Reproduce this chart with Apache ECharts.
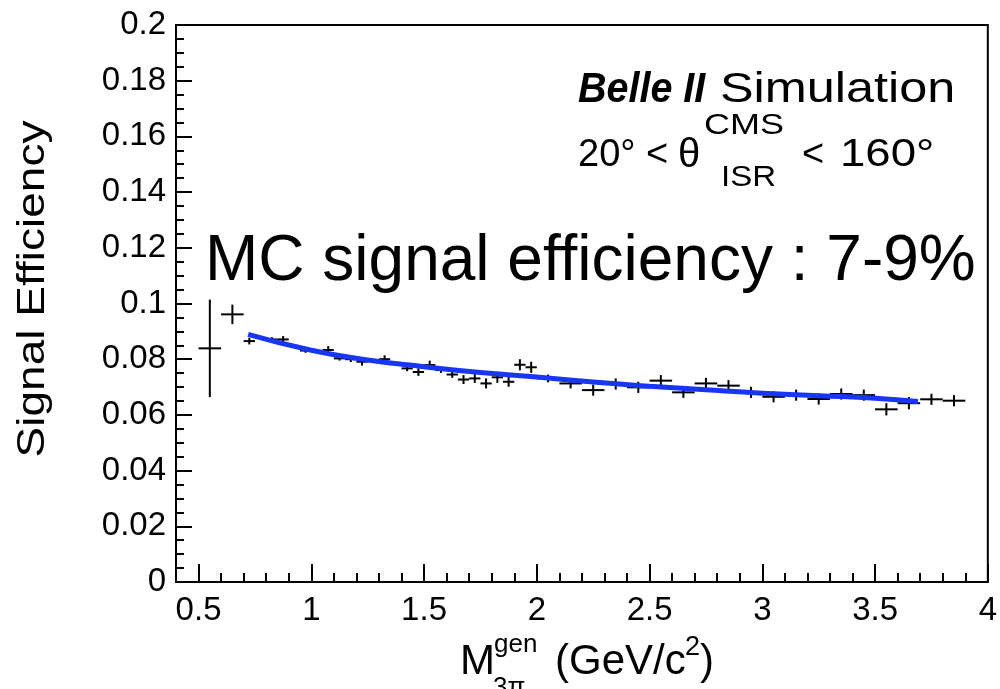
<!DOCTYPE html>
<html>
<head>
<meta charset="utf-8">
<script src="https://cdn.jsdelivr.net/npm/echarts@6/dist/echarts.min.js"></script>
<style>
html,body{margin:0;padding:0;background:#fff;}
#c{width:1000px;height:689px;}
</style>
</head>
<body>
<div id="c"></div>
<script>
// ---- data ----
const massCenters = [0.55,0.65,0.725,0.825,0.875,0.975,1.075,1.125,1.175,1.225,1.325,1.425,1.475,1.525,1.575,1.625,1.675,1.725,1.775,1.825,1.875,1.925,1.975,2.05,2.15,2.25,2.35,2.45,2.55,2.65,2.75,2.85,2.95,3.05,3.15,3.25,3.35,3.45,3.55,3.65,3.75,3.85];
const binHalfWidths = [0.05,0.05,0.025,0.025,0.025,0.025,0.025,0.025,0.025,0.025,0.025,0.025,0.025,0.025,0.025,0.025,0.025,0.025,0.025,0.025,0.025,0.025,0.025,0.05,0.05,0.05,0.05,0.05,0.05,0.05,0.05,0.05,0.05,0.05,0.05,0.05,0.05,0.05,0.05,0.05,0.05,0.05];
const efficiency = [0.0839,0.0961,0.0865,0.0871,0.0871,0.0831,0.0833,0.0803,0.0800,0.0791,0.0800,0.0767,0.0754,0.0779,0.0761,0.0745,0.0727,0.0731,0.0713,0.0735,0.0719,0.0780,0.0771,0.0731,0.0713,0.0689,0.0711,0.0699,0.0723,0.0681,0.0713,0.0705,0.0681,0.0665,0.0671,0.0657,0.0675,0.0671,0.0620,0.0642,0.0656,0.0651];
const effErrors = [0.0175,0.0035,0.0012,0.0008,0.0012,0.0008,0.0014,0.0008,0.0010,0.0014,0.0014,0.0010,0.0014,0.0016,0.0010,0.0012,0.0016,0.0016,0.0018,0.0020,0.0018,0.0020,0.0020,0.0014,0.0018,0.0020,0.0020,0.0020,0.0020,0.0020,0.0020,0.0020,0.0020,0.0020,0.0020,0.0020,0.0020,0.0020,0.0022,0.0022,0.0020,0.0020];
const fitX = [0.72,1.0,1.25,1.5,1.75,2.0,2.25,2.5,2.75,3.0,3.25,3.5,3.69];
const fitY = [0.0889,0.0832,0.0797,0.0773,0.0752,0.0736,0.0718,0.0703,0.0690,0.0678,0.0669,0.0660,0.0648];
const xTickLabels = [0.5,1,1.5,2,2.5,3,3.5,4];

const pointData = massCenters.map((x,i)=>[x, efficiency[i], binHalfWidths[i], effErrors[i]]);
const fitData = fitX.map((x,i)=>[x, fitY[i]]);

const FONT = '"Liberation Sans", Arial, sans-serif';
const chart = echarts.init(document.getElementById('c'), null, {renderer:'canvas'});
const fmt = v => String(+(+v).toFixed(2));

chart.setOption({
  animation:false,
  backgroundColor:'#fff',
  grid:{left:176,right:11,top:25,bottom:107,show:true,borderColor:'#000',borderWidth:2,backgroundColor:'transparent'},
  xAxis:[{
    type:'value',min:0.4,max:4.0,interval:0.1,position:'bottom',
    axisLine:{show:true,lineStyle:{color:'#000',width:2}},
    axisTick:{show:true,inside:true,length:9,lineStyle:{color:'#000',width:2}},
    axisLabel:{show:true,customValues:xTickLabels,formatter:fmt,color:'#000',fontSize:33,fontFamily:FONT,margin:12},
    splitLine:{show:false}
  },{
    type:'value',min:0.4,max:4.0,position:'bottom',
    axisLine:{show:false},
    axisTick:{show:true,inside:true,length:18,customValues:xTickLabels,lineStyle:{color:'#000',width:2}},
    axisLabel:{show:false},
    splitLine:{show:false}
  }],
  yAxis:{
    type:'value',min:0,max:0.2,interval:0.02,
    axisLine:{show:true,lineStyle:{color:'#000',width:2}},
    axisTick:{show:true,inside:true,length:16,lineStyle:{color:'#000',width:2}},
    minorTick:{show:true,splitNumber:4,length:8,lineStyle:{color:'#000',width:2}},
    axisLabel:{formatter:fmt,color:'#000',fontSize:33,fontFamily:FONT,margin:10},
    splitLine:{show:false}
  },
  series:[{
    type:'custom',xAxisIndex:0,yAxisIndex:0,data:pointData,z:3,
    renderItem:(params,api)=>{
      const x=api.value(0),y=api.value(1),hw=api.value(2),ey=api.value(3);
      const l=api.coord([x-hw,y]),r=api.coord([x+hw,y]);
      const t=api.coord([x,y+ey]),b=api.coord([x,y-ey]);
      return {type:'group',children:[
        {type:'line',shape:{x1:l[0],y1:l[1],x2:r[0],y2:r[1]},style:{stroke:'#000',lineWidth:2}},
        {type:'line',shape:{x1:t[0],y1:t[1],x2:b[0],y2:b[1]},style:{stroke:'#000',lineWidth:2}}
      ]};
    }
  },{
    type:'line',xAxisIndex:0,yAxisIndex:0,data:fitData,smooth:true,showSymbol:false,z:4,
    lineStyle:{color:'#1836f8',width:5}
  }],
  graphic:[
    {type:'text',x:33,y:289,rotation:Math.PI/2,scaleX:1.18,style:{text:'Signal Efficiency',font:'39px '+FONT,fill:'#000',align:'center',verticalAlign:'middle'}},
    {type:'text',x:460,y:662,style:{text:'M',font:'42px '+FONT,fill:'#000',align:'left',verticalAlign:'middle'}},
    {type:'text',x:494,y:645,style:{text:'gen',font:'26px '+FONT,fill:'#000',align:'left',verticalAlign:'middle'}},
    {type:'text',x:493,y:688,style:{text:'3π',font:'26px '+FONT,fill:'#000',align:'left',verticalAlign:'middle'}},
    {type:'text',x:555,y:662,style:{text:'(GeV/c',font:'42px '+FONT,fill:'#000',align:'left',verticalAlign:'middle'}},
    {type:'text',x:685,y:648,style:{text:'2',font:'27px '+FONT,fill:'#000',align:'left',verticalAlign:'middle'}},
    {type:'text',x:700,y:662,style:{text:')',font:'42px '+FONT,fill:'#000',align:'left',verticalAlign:'middle'}},
    {type:'text',x:578,y:90,scaleX:0.94,style:{text:'Belle II',font:'italic bold 42px '+FONT,fill:'#000',align:'left',verticalAlign:'middle'}},
    {type:'text',x:720,y:90,scaleX:1.2,style:{text:'Simulation',font:'42px '+FONT,fill:'#000',align:'left',verticalAlign:'middle'}},
    {type:'text',x:578,y:156,style:{text:'20° <',font:'38px '+FONT,fill:'#000',align:'left',verticalAlign:'middle'}},
    {type:'text',x:678,y:156,style:{text:'θ',font:'40px '+FONT,fill:'#000',align:'left',verticalAlign:'middle'}},
    {type:'text',x:704,y:126,scaleX:1.2,style:{text:'CMS',font:'30px '+FONT,fill:'#000',align:'left',verticalAlign:'middle'}},
    {type:'text',x:721,y:178,scaleX:1.1,style:{text:'ISR',font:'30px '+FONT,fill:'#000',align:'left',verticalAlign:'middle'}},
    {type:'text',x:802,y:156,style:{text:'<',font:'38px '+FONT,fill:'#000',align:'left',verticalAlign:'middle'}},
    {type:'text',x:840,y:156,scaleX:1.2,style:{text:'160°',font:'38px '+FONT,fill:'#000',align:'left',verticalAlign:'middle'}},
    {type:'text',x:205,y:262,style:{text:'MC signal efficiency : 7-9%',font:'64px '+FONT,fill:'#000',align:'left',verticalAlign:'middle'}}
  ]
});
</script>
</body>
</html>
